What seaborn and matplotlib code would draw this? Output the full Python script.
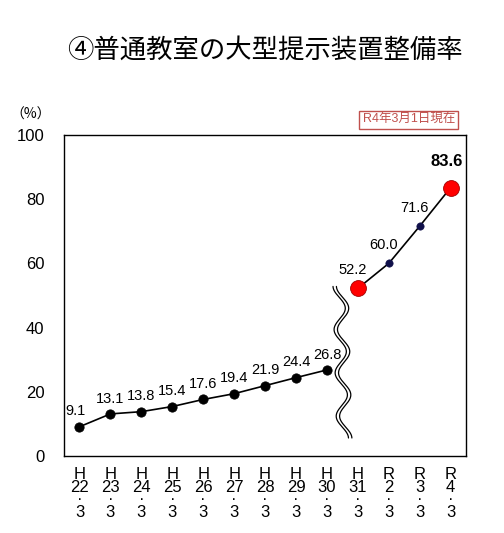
import numpy as np
import pandas as pd
import matplotlib
matplotlib.use('Agg')
import matplotlib.pyplot as plt
import seaborn as sns

## =============================== ##
## data

years = ['H22', 'H23', 'H24', 'H25', 'H26', 'H27', 'H28', 'H29', 'H30',
         'H31', 'R2', 'R3', 'R4']
tick_labels = ['H\n22\n·\n3', 'H\n23\n·\n3', 'H\n24\n·\n3', 'H\n25\n·\n3',
               'H\n26\n·\n3', 'H\n27\n·\n3', 'H\n28\n·\n3', 'H\n29\n·\n3',
               'H\n30\n·\n3', 'H\n31\n·\n3', 'R\n2\n·\n3', 'R\n3\n·\n3',
               'R\n4\n·\n3']
rates = [9.1, 13.1, 13.8, 15.4, 17.6, 19.4, 21.9, 24.4, 26.8,
         52.2, 60.0, 71.6, 83.6]
n_old = 9   # H22..H30 drawn before the break

## =============================== ##

sns.set_style('white')
plt.rcParams['font.family'] = ['Liberation Sans', 'Noto Sans CJK JP', 'DejaVu Sans']
plt.rcParams['text.color'] = 'black'
plt.rcParams['xtick.color'] = 'black'
plt.rcParams['ytick.color'] = 'black'
plt.rcParams['xtick.labelcolor'] = 'black'
plt.rcParams['ytick.labelcolor'] = 'black'

df = pd.DataFrame({'year': years, 'rate': rates})
df['pos'] = np.arange(len(df))
df_old = df.iloc[:n_old]
df_new = df.iloc[n_old:]

fig = plt.figure(figsize=(5.04, 5.33), dpi=100)
ax = fig.add_axes([0.127, 0.1445, 0.798, 0.6025])

sns.lineplot(ax=ax, data=df_old, x='pos', y='rate', color='black', lw=1.2)
sns.lineplot(ax=ax, data=df_new, x='pos', y='rate', color='black', lw=1.2)
sns.scatterplot(ax=ax, data=df_old, x='pos', y='rate', color='black', s=45,
                edgecolor='black', zorder=3)
big = df_new.iloc[[0, -1]]
small = df_new.iloc[1:-1]
sns.scatterplot(ax=ax, data=big, x='pos', y='rate', color='#ff0000', s=130,
                edgecolor='#a00000', linewidth=0.6, zorder=3)
sns.scatterplot(ax=ax, data=small, x='pos', y='rate', color='#10104a', s=28,
                edgecolor='#10104a', zorder=3)

# value labels
for i, r in df.iterrows():
    if r['year'] == 'R4':
        ax.annotate(f"{r['rate']:.1f}", (r['pos'], r['rate']), xytext=(-3, 13),
                    textcoords='offset points', ha='center', va='bottom',
                    fontsize=12, fontweight='bold')
    elif i >= n_old:
        ax.annotate(f"{r['rate']:.1f}", (r['pos'], r['rate']), xytext=(-4, 8),
                    textcoords='offset points', ha='center', va='bottom',
                    fontsize=10.5)
    else:
        dx = -3 if i == 0 else 0
        ax.annotate(f"{r['rate']:.1f}", (r['pos'], r['rate']), xytext=(dx, 6),
                    textcoords='offset points', ha='center', va='bottom',
                    fontsize=10.5)

# wavy break marks (double line)
yy = np.linspace(5.6, 52.8, 400)
t = (52.8 - yy) / (52.8 - 5.6)
wave = 0.19 * np.sin(t * 2 * np.pi * 3.5 - np.pi / 2) + 0.12 * (t - 0.5)
for off in [-0.055, 0.055]:
    ax.plot(8.5 + off + wave, yy, color='black', lw=0.9)

ax.set_xlim(-0.5, len(years) - 0.5)
ax.set_ylim(0, 100)
ax.set_yticks([0, 20, 40, 60, 80, 100])
ax.set_xticks(df['pos'])
ax.set_xticklabels(tick_labels, linespacing=0.8)
ax.set_xticks(np.arange(0.5, len(years) - 0.5), minor=True)
ax.tick_params(axis='x', which='major', length=0, pad=8, labelsize=12)
ax.tick_params(axis='x', which='minor', direction='in', length=4, width=0.8)
ax.tick_params(axis='y', direction='in', length=5, width=0.8, labelsize=12, pad=14)
ax.set_xlabel('')
ax.set_ylabel('')
for sp in ax.spines.values():
    sp.set_color('black')
    sp.set_linewidth(1.0)

fig.text(0.525, 0.905, '④普通教室の大型提示装置整備率', ha='center', va='center',
         fontsize=19, family=['Noto Sans CJK JP', 'DejaVu Sans'])
fig.text(0.02, 0.785, '（%）', ha='left', va='center', fontsize=10,
         family=['Noto Sans CJK JP', 'DejaVu Sans'])
fig.text(0.811, 0.775, 'R4年3月1日現在', ha='center', va='center', fontsize=9,
         color='#c0504d',
         bbox=dict(boxstyle='square,pad=0.25', fc='white', ec='#c0504d', lw=1.0))

fig.savefig('out.png', dpi=100)
